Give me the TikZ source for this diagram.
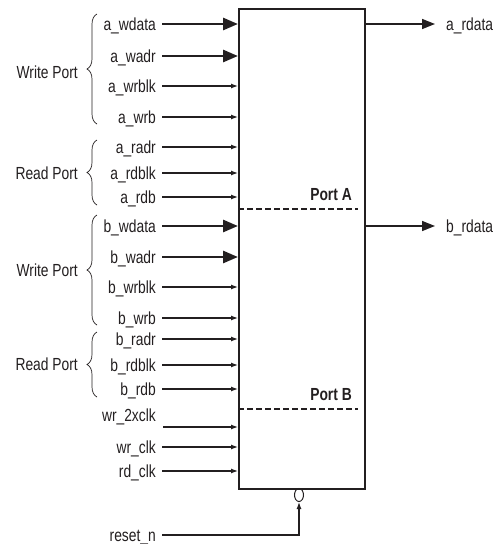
\documentclass[tikz,border=0pt]{standalone}
\usepackage{fontspec}
\setmainfont{Liberation Sans}[FakeStretch=0.79]
\usetikzlibrary{arrows.meta,decorations.pathreplacing,shapes.geometric}
\definecolor{ink}{HTML}{231F20}
\tikzset{
  lbl/.style={font=\fontsize{17.5}{19}\selectfont, text=ink, inner sep=0pt},
  plbl/.style={font=\fontsize{17.5}{19}\selectfont\bfseries, text=ink, inner sep=0pt},
  thinarr/.style={draw=ink, line width=1.2pt, -{Latex[length=7pt,width=5pt]}},
  thickarr/.style={draw=ink, line width=2.8pt, -{Triangle[length=15pt,width=12pt]}},
  outarr/.style={draw=ink, line width=1.5pt, -{Triangle[length=13pt,width=10pt]}},
  portbrace/.style={draw=ink, line width=0.7pt, decorate, decoration={brace, amplitude=10pt}},
  divline/.style={draw=ink, line width=1.8pt, dash pattern=on 5.5pt off 3.5pt}
}
\begin{document}
\begin{tikzpicture}[x=1pt,y=-1pt]
\useasboundingbox (0,0) rectangle (500,544);
\node[draw=ink, line width=2.2pt, minimum width=126pt, minimum height=480pt, anchor=north west, inner sep=0pt] (box) at (238,8) {};
% inputs
\foreach \nm/\yy/\tx/\st in {
  awdata/24/a\_wdata/thickarr, awadr/56/a\_wadr/thickarr, awrblk/86/a\_wrblk/thinarr, awrb/117/a\_wrb/thinarr,
  aradr/147/a\_radr/thinarr, ardblk/173/a\_rdblk/thinarr, ardb/197/a\_rdb/thinarr,
  bwdata/226/b\_wdata/thickarr, bwadr/257/b\_wadr/thickarr, bwrblk/287/b\_wrblk/thinarr, bwrb/318/b\_wrb/thinarr,
  bradr/339/b\_radr/thinarr, brdblk/365/b\_rdblk/thinarr, brdb/389/b\_rdb/thinarr,
  wrclk/447/wr\_clk/thinarr, rdclk/471/rd\_clk/thinarr}{
  \node[lbl, anchor=base east] (\nm) at (156,\yy+6) {\tx};
  \draw[\st] ([xshift=6pt,yshift=6pt]\nm.base east) -- ([yshift=6pt]\nm.base east -| box.west);
}
\node[lbl, anchor=base east] (wr2x) at (156,421) {wr\_2xclk};
\coordinate (wr2xs) at (163,427);
\draw[thinarr] (wr2xs) -- (wr2xs -| box.west);
% outputs
\node[lbl, anchor=base west] (ardata) at (446,30) {a\_rdata};
\node[lbl, anchor=base west] (brdata) at (446,232) {b\_rdata};
\draw[outarr] ([yshift=6pt]ardata.base west -| box.east) -- ([xshift=-11pt,yshift=6pt]ardata.base west);
\draw[outarr] ([yshift=6pt]brdata.base west -| box.east) -- ([xshift=-11pt,yshift=6pt]brdata.base west);
% port dividers
\draw[divline] (box.west |- 0,209) -- (358,209);
\draw[divline] (box.west |- 0,409) -- (358,409);
\node[plbl, anchor=base east] (pa) at (352,200) {Port A};
\node[plbl, anchor=base east] (pb) at (352,400) {Port B};
% reset
\node[draw=ink, line width=1pt, ellipse, minimum width=9pt, minimum height=13pt, inner sep=0pt, anchor=north] (bub) at (299,488) {};
\node[lbl, anchor=base east] (rst) at (156,541) {reset\_n};
\draw[thinarr] ([xshift=6pt,yshift=6pt]rst.base east) -| (bub.south);
% braces
\draw[portbrace] (97,124) -- (97,14);
\draw[portbrace] (97,205) -- (97,140);
\draw[portbrace] (97,325) -- (97,215);
\draw[portbrace] (97,397) -- (97,332);
\node[lbl, anchor=east] (wp1) at (78,72) {Write Port};
\node[lbl, anchor=east] (rp1) at (78,173) {Read Port};
\node[lbl, anchor=east] (wp2) at (78,270) {Write Port};
\node[lbl, anchor=east] (rp2) at (78,364) {Read Port};
\end{tikzpicture}
\end{document}
